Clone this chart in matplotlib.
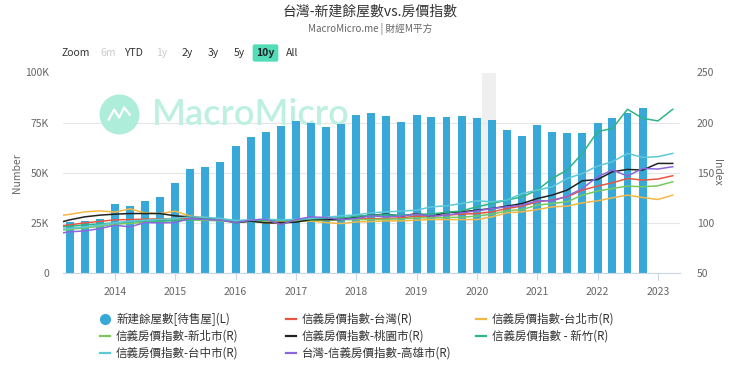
import matplotlib
matplotlib.use('Agg')
import matplotlib.pyplot as plt
import matplotlib.dates as mdates
import matplotlib.ticker as mticker
from matplotlib.lines import Line2D
import pandas as pd

plt.rcParams['font.family'] = ['Noto Sans CJK TC', 'DejaVu Sans']

# 新建餘屋數 (quarterly, thousands)
bar_dates = pd.date_range('2013-04-01', '2022-10-01', freq='QS')
unsold_k = [25.6, 25.8, 26.9, 34.3, 33.4, 36.0, 38.0, 44.8, 52.0, 52.7, 55.5,
            63.5, 67.9, 70.4, 73.2, 75.6, 74.9, 72.7, 74.4, 78.6, 79.9, 78.1,
            75.3, 78.6, 77.6, 77.9, 78.1, 77.3, 76.1, 71.4, 68.2, 73.7, 70.1,
            69.6, 69.6, 74.9, 77.3, 79.8, 82.1]

# 信義房價指數 (quarterly)
line_dates = pd.date_range('2013-01-01', '2023-04-01', freq='QS')
taiwan = [96.5, 98, 100, 101.5, 103, 103.3, 103.7, 104, 104.3, 104.3, 103.7, 103,
          101, 102, 101.5, 101, 102, 103, 103.3, 103.7, 104.3, 104.3, 104.3, 105,
          106.7, 106.7, 107.7, 108.7, 109.3, 111, 114.3, 116.7, 121, 122.7, 126, 132.7,
          136.7, 140, 144.3, 142.7, 143.7, 147]
taipei = [106.5, 108.5, 111, 112, 110.7, 114, 110, 109.3, 111.7, 106.7, 105.3, 103.3,
          100.3, 102, 100, 99.3, 101.7, 101.7, 100.3, 99.3, 101, 101.3, 102, 102,
          102.7, 103.3, 103.3, 103.3, 103.3, 106, 110, 111, 113.3, 116, 116.7, 120,
          122, 125, 127.7, 125.3, 123.3, 127.7]
new_taipei = [92, 93.5, 95, 96.5, 98.7, 99.5, 100.5, 101.5, 102.7, 103, 102.5, 102,
              100.5, 101.5, 101, 100.5, 101.5, 102.5, 102.7, 103, 103.3, 103.3, 103.7, 104,
              105, 105, 105.3, 105.7, 106.7, 108.7, 112, 113.3, 117.7, 119.3, 121, 127.7,
              131.7, 134.3, 136.7, 136, 137, 141]
taoyuan = [99, 103, 106, 107.7, 108.7, 109.3, 109.3, 109.3, 107, 106, 104.3, 103.3,
           100.3, 101.7, 100, 100, 100.7, 103.3, 103.3, 103.3, 106, 107.7, 108.7, 106.7,
           109.3, 106.7, 110.3, 111, 112.7, 114.3, 116.7, 119.3, 124.3, 127.7, 132.7, 142,
           143.3, 151, 153.3, 152.7, 159.3, 159.3]
hsinchu = [95.5, 96.5, 98, 99, 100, 101, 102, 102, 102.5, 103, 104, 103.5,
           101.5, 102.5, 102.7, 102.5, 103, 104, 104.5, 105, 106.5, 107.7, 108, 107.5,
           108.5, 109, 110.5, 112, 116, 119.3, 122.7, 126, 132.7, 144.3, 152.7, 169.3,
           191, 194.3, 213.3, 204.3, 201.7, 213.3]
taichung = [93, 94.5, 96, 98, 100, 101.5, 102.7, 103.5, 104.5, 106, 105.5, 104.5,
            102.5, 103, 103.7, 103, 103.5, 104.5, 105.5, 107, 108, 110, 111, 111.7,
            112.7, 116, 117, 119.3, 122, 121, 122.7, 129.3, 132.7, 136, 144.3, 149.3,
            156.7, 161, 169.3, 165.3, 166, 169.3]
kaohsiung = [89, 91, 92, 94.3, 97.7, 96, 100.3, 100, 100.3, 104.3, 103.3, 102.7,
             100.3, 102.7, 103.7, 98.3, 103.3, 106, 105.3, 103.3, 104.3, 107, 106, 106.7,
             108.7, 106.7, 107.7, 110, 112, 114.3, 116, 117.7, 122, 122, 126.7, 134.3,
             146, 152.7, 146.7, 154.3, 153.7, 156]

bar_label = '新建餘屋數[待售屋](L)'
line_series = [
    ('信義房價指數-台灣(R)', taiwan, '#e8553f'),
    ('信義房價指數-台北市(R)', taipei, '#f3b843'),
    ('信義房價指數-新北市(R)', new_taipei, '#78c85e'),
    ('信義房價指數-桃園市(R)', taoyuan, '#222222'),
    ('信義房價指數 - 新竹(R)', hsinchu, '#2db487'),
    ('信義房價指數-台中市(R)', taichung, '#5cc9d6'),
    ('台灣-信義房價指數-高雄市(R)', kaohsiung, '#8a68dc'),
]
bar_color = '#38a8d9'
grey = '#666666'

fig = plt.figure(figsize=(7.4, 3.68), dpi=100)
ax = fig.add_axes([63 / 740, 1 - 273 / 368, 617 / 740, 200.5 / 368])
ax2 = ax.twinx()

# recession shading
ax.axvspan(pd.Timestamp('2020-02-01'), pd.Timestamp('2020-04-25'), color='#efefef', zorder=0, lw=0)

# watermark
ax.scatter([0.091], [0.793], s=830, color='#aeedd9', transform=ax.transAxes, zorder=1, lw=0)
ax.plot([0.074, 0.083, 0.091, 0.099, 0.108], [0.765, 0.815, 0.775, 0.825, 0.79],
        color='white', lw=1.6, transform=ax.transAxes, zorder=1.1)
ax.text(0.144, 0.79, 'MacroMicro', transform=ax.transAxes, fontsize=26, family='Lato',
        fontweight='semibold', color='#bdf0e0', ha='left', va='center', zorder=1)

ax.bar(bar_dates, [v * 1000 for v in unsold_k], width=48, color=bar_color, zorder=2)

for label, vals, col in line_series:
    ax2.plot(line_dates, vals, color=col, lw=1.1)

ax.set_xlim(pd.Timestamp('2013-02-20'), pd.Timestamp('2023-05-15'))
ax.set_ylim(0, 100000)
ax2.set_ylim(50, 250)
ax.set_yticks([0, 25000, 50000, 75000, 100000])
ax.yaxis.set_major_formatter(mticker.FuncFormatter(lambda v, p: '0' if v == 0 else f'{int(v / 1000)}K'))
ax2.set_yticks([50, 100, 150, 200, 250])

ax.xaxis.set_major_locator(mdates.YearLocator())
ax.xaxis.set_major_formatter(mdates.DateFormatter('%Y'))

ax.set_axisbelow(True)
ax.yaxis.grid(True, color='#e6e6e6', lw=0.8)
for a in (ax, ax2):
    for s in ('top', 'left', 'right', 'bottom'):
        a.spines[s].set_visible(False)
ax.spines['bottom'].set_visible(True)
ax.spines['bottom'].set_color('#ccd6eb')

ax.tick_params(axis='x', length=5, color='#ccd6eb', labelsize=7.5, labelcolor=grey, pad=5)
ax.tick_params(axis='y', length=0, labelsize=7.5, labelcolor=grey, pad=10)
ax2.tick_params(axis='y', length=0, labelsize=7.5, labelcolor=grey, pad=12)
ax.set_ylabel('Number', fontsize=7.5, color=grey, labelpad=2)
ax2.set_ylabel('Index', fontsize=7.5, color=grey, rotation=270, labelpad=6)

# titles
fig.text(370 / 740, 1 - 12 / 368, '台灣-新建餘屋數vs.房價指數', ha='center', va='center', fontsize=10, color='#333333')
fig.text(370 / 740, 1 - 29 / 368, 'MacroMicro.me | 財經M平方', ha='center', va='center', fontsize=7, color='#666666')

# range selector buttons
buttons = [('Zoom', 62, '#333333'), ('6m', 100, '#cccccc'), ('YTD', 124, '#333333'), ('1y', 156, '#cccccc'),
           ('2y', 182, '#333333'), ('3y', 208, '#333333'), ('5y', 234, '#333333'), ('All', 286, '#333333')]
for txt, x, c in buttons:
    fig.text(x / 740, 1 - 53 / 368, txt, ha='left', va='center', fontsize=7.5, color=c)
fig.text(265.5 / 740, 1 - 53 / 368, '10y', ha='center', va='center', fontsize=7.5, color='#222222',
         fontweight='bold', bbox=dict(boxstyle='round,pad=0.35,rounding_size=0.2', fc='#52dcb8', ec='none'))

# legend (3 columns, row-major)
items = [(bar_label, bar_color, 'o')] + [(l, c, '-') for l, v, c in line_series]
col_x = [105, 291, 481]
row_y = [319, 336, 353]
for i, (lab, col, kind) in enumerate(items):
    cx = col_x[i % 3]
    cy = row_y[i // 3]
    if kind == 'o':
        fig.add_artist(Line2D([cx / 740], [1 - cy / 368], marker='o', markersize=7, color=col, lw=0))
    else:
        fig.add_artist(Line2D([(cx - 5) / 740, (cx + 5) / 740], [1 - cy / 368] * 2, color=col, lw=1.6))
    fig.text((cx + 11) / 740, 1 - cy / 368, lab, ha='left', va='center', fontsize=8.3, color='#333333')

fig.savefig('out.png', dpi=100)
